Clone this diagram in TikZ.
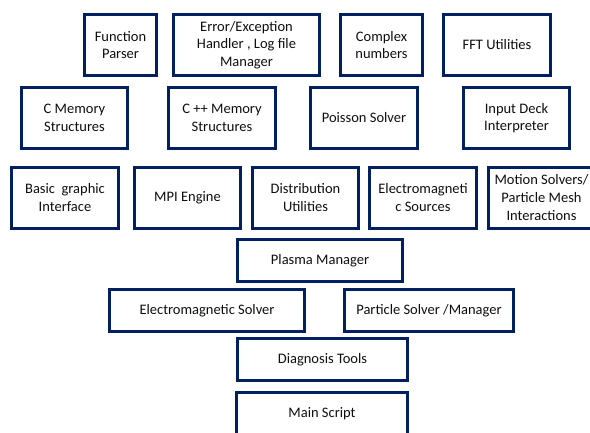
\documentclass[tikz,border=0pt]{standalone}
\usepackage{fontspec}
\setmainfont{Carlito}
\usepackage{tikz}
\definecolor{navy}{RGB}{0,32,96}
\definecolor{ink}{RGB}{15,15,15}

\begin{document}
\begin{tikzpicture} [x = 1pt, y = -1pt,
  mod/.style = {draw = navy, line width = 3pt, fill = white, text = ink, align = center,
    inner sep = 0pt, font = \fontsize{14.5}{17.7}\selectfont},
  tall/.style = {mod, minimum height = 61pt},
  flat/.style = {mod, minimum height = 42pt}]
\path[use as bounding box, clip] (0,0) rectangle (590,432);
\node[tall, minimum width = 72pt] (fp) at (120.5,45) {Function\\Parser};
\node[tall, minimum width = 146pt] (err) at (246.5,45) {Error/Exception\\Handler , Log file\\Manager};
\node[tall, minimum width = 82pt] (cplx) at (381.5,45) {Complex\\numbers};
\node[tall, minimum width = 107pt] (fft) at (497,45) {FFT Utilities};
\node[tall, minimum width = 106pt] (cmem) at (74.5,118) {C Memory\\Structures};
\node[tall, minimum width = 107pt] (cppmem) at (222,118) {C ++ Memory\\Structures};
\node[tall, minimum width = 107pt] (poisson) at (364,118) {Poisson Solver};
\node[tall, minimum width = 106pt] (deck) at (516.5,118) {Input Deck\\Interpreter};
\node[tall, minimum width = 107pt] (gfx) at (65,197.5) {Basic~ graphic\\Interface};
\node[tall, minimum width = 106pt] (mpi) at (187.5,197.5) {MPI Engine};
\node[tall, minimum width = 106pt] (distr) at (305.5,197.5) {Distribution\\Utilities};
\node[tall, minimum width = 107pt] (emsrc) at (423,197.5) {Electromagneti\\c Sources};
\node[tall, minimum width = 107pt] (motion) at (541.5,197.5) {Motion Solvers/\\Particle Mesh\\Interactions};
\node[flat, minimum width = 165pt] (plasma) at (320,260.5) {Plasma Manager};
\node[flat, minimum width = 195pt] (emsolv) at (207,310.5) {Electromagnetic Solver};
\node[flat, minimum width = 169pt] (psolv) at (429,310.5) {Particle Solver /Manager};
\node[flat, minimum width = 170pt] (diag) at (322.5,359.5) {Diagnosis Tools};
\node[flat, minimum width = 171pt] (main) at (322,413.5) {Main Script};
\end{tikzpicture}
\end{document}
